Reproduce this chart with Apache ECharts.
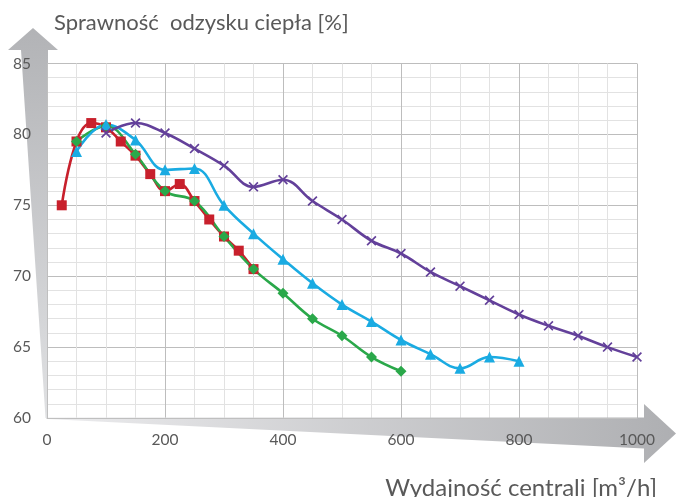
<!DOCTYPE html>
<html>
<head>
<meta charset="utf-8">
<script src="https://cdn.jsdelivr.net/npm/echarts@6/dist/echarts.min.js"></script>
<style>
html,body{margin:0;padding:0;background:#fff;}
#c{width:676px;height:497px;}
</style>
</head>
<body>
<div id="c"></div>
<script>
// ---- data ----
const yTitle = 'Sprawność  odzysku ciepła [%]';
const xTitle = 'Wydajność centrali [m³/h]';

const redX = [25, 50, 75, 100, 125, 150, 175, 200, 225, 250, 275, 300, 325, 350];
const redY = [75.0, 79.5, 80.8, 80.5, 79.5, 78.5, 77.2, 76.0, 76.5, 75.3, 74.0, 72.8, 71.8, 70.5];

const greenX = [50, 100, 150, 200, 250, 300, 350, 400, 450, 500, 550, 600];
const greenY = [79.5, 80.6, 78.6, 76.0, 75.3, 72.8, 70.5, 68.8, 67.0, 65.8, 64.3, 63.3];

const blueX = [50, 100, 150, 200, 250, 300, 350, 400, 450, 500, 550, 600, 650, 700, 750, 800];
const blueY = [78.8, 80.7, 79.6, 77.5, 77.6, 75.0, 73.0, 71.2, 69.5, 68.0, 66.8, 65.5, 64.5, 63.5, 64.3, 64.0];

const purpleX = [100, 150, 200, 250, 300, 350, 400, 450, 500, 550, 600, 650, 700, 750, 800, 850, 900, 950, 1000];
const purpleY = [80.1, 80.8, 80.1, 79.0, 77.8, 76.3, 76.8, 75.3, 74.0, 72.5, 71.6, 70.3, 69.3, 68.3, 67.3, 66.5, 65.8, 65.0, 64.3];

const xMin = 0, xMax = 1000, xStep = 200;
const yMin = 60, yMax = 85, yStep = 5;

// ---- chart ----
const pairs = (xs, ys) => xs.map((x, i) => [x, ys[i]]);
const textColor = '#595959';
const font = 'Lato, "Open Sans", sans-serif';
const xMark = 'path://M0,1.2 L1.2,0 L5,3.8 L8.8,0 L10,1.2 L6.2,5 L10,8.8 L8.8,10 L5,6.2 L1.2,10 L0,8.8 L3.8,5 Z';

function line(name, xs, ys, color, symbol, size) {
  return {
    name, type: 'line', data: pairs(xs, ys), smooth: 0.4,
    symbol, symbolSize: size, showSymbol: true,
    lineStyle: { color, width: 2.6 },
    itemStyle: { color, borderColor: color, borderWidth: 0 },
    z: 3
  };
}

const chart = echarts.init(document.getElementById('c'), null, { renderer: 'canvas' });
const option = {
  animation: false,
  backgroundColor: '#ffffff',
  title: [
    { text: yTitle, left: 49, top: 7,
      textStyle: { color: textColor, fontFamily: font, fontSize: 22, fontWeight: 'normal' } },
    { text: xTitle, right: 14, top: 471,
      textStyle: { color: textColor, fontFamily: font, fontSize: 24, fontWeight: 'normal' } }
  ],
  grid: { left: 47, right: 39, top: 63.5, bottom: 79, containLabel: false },
  xAxis: {
    type: 'value', min: xMin, max: xMax, interval: xStep,
    axisLine: { show: true, lineStyle: { color: '#bfbfbf', width: 1 } },
    axisTick: { show: false },
    axisLabel: { color: textColor, fontFamily: font, fontSize: 15.5, margin: 14,
      formatter: v => String(v) },
    splitLine: { show: true, lineStyle: { color: '#bdbdbd', width: 1 } },
    minorTick: { show: false, splitNumber: 4 },
    minorSplitLine: { show: true, lineStyle: { color: '#e2e2e2', width: 1 } }
  },
  yAxis: {
    type: 'value', min: yMin, max: yMax, interval: yStep,
    axisLine: { show: true, lineStyle: { color: '#bfbfbf', width: 1 } },
    axisTick: { show: false },
    axisLabel: { color: textColor, fontFamily: font, fontSize: 15.5, margin: 16,
      formatter: v => String(v) },
    splitLine: { show: true, lineStyle: { color: '#bdbdbd', width: 1 } },
    minorTick: { show: false, splitNumber: 5 },
    minorSplitLine: { show: true, lineStyle: { color: '#e2e2e2', width: 1 } }
  },
  series: [
    line('czerwona', redX, redY, '#c8202c', 'rect', 10),
    line('zielona', greenX, greenY, '#2aa84a', 'diamond', 11),
    line('niebieska', blueX, blueY, '#1aabe2', 'triangle', 11),
    line('fioletowa', purpleX, purpleY, '#63409a', xMark, 10)
  ]
};
chart.setOption(option);

// decorative arrows along the axes, anchored to the axis positions
const o = chart.convertToPixel({ gridIndex: 0 }, [xMin, yMin]);
const tr = chart.convertToPixel({ gridIndex: 0 }, [xMax, yMax]);
const ox = o[0], oy = o[1], ty = tr[1], rx = tr[0];
const headY = ty - 13.5;
chart.setOption({
  graphic: [
    {
      type: 'polygon', silent: true, z: 0, zlevel: 0,
      shape: { points: [
        [ox - 1.5, oy], [ox + 1, oy], [ox + 1, headY], [ox + 11, headY],
        [ox - 14, headY - 22], [ox - 39, headY], [ox - 26, headY]
      ] },
      style: { fill: new echarts.graphic.LinearGradient(0, 0, 0, 1, [
        { offset: 0, color: '#b2b3b6' }, { offset: 1, color: '#e0e1e3' }
      ]) }
    },
    {
      type: 'polygon', silent: true, z: 0, zlevel: 0,
      shape: { points: [
        [ox, oy - 0.5], [rx + 7, oy - 0.5], [rx + 7, oy - 14], [rx + 39, oy + 15.5],
        [rx + 7, oy + 45], [rx + 7, oy + 30.5], [ox, oy + 1]
      ] },
      style: { fill: new echarts.graphic.LinearGradient(0, 0, 1, 0, [
        { offset: 0, color: '#ececee' }, { offset: 1, color: '#aeafb2' }
      ]) }
    }
  ]
});
</script>
</body>
</html>
